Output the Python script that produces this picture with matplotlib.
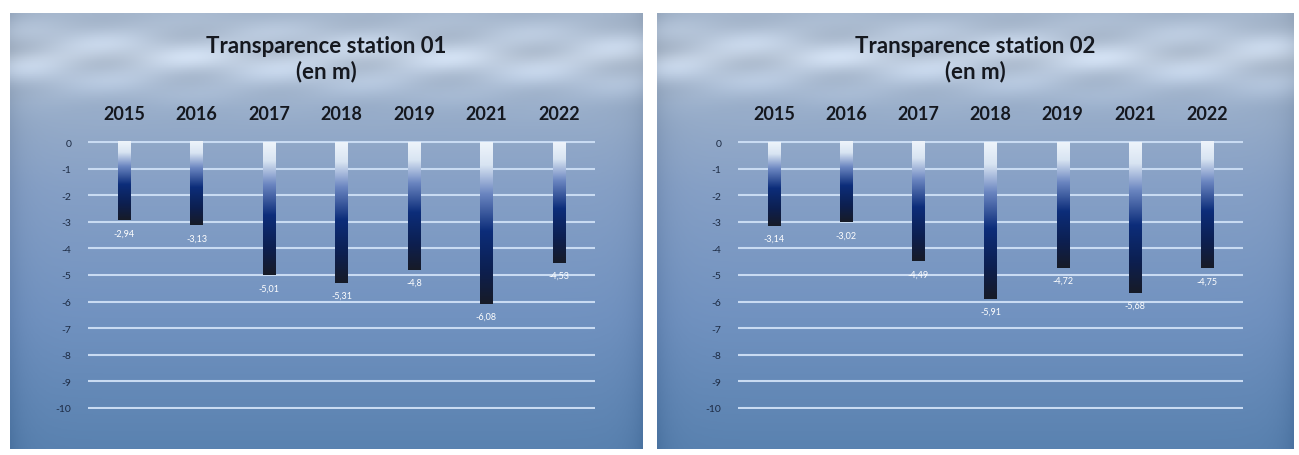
import numpy as np
import matplotlib
matplotlib.use('Agg')
import matplotlib.pyplot as plt
from matplotlib.colors import LinearSegmentedColormap

# donnees
annees = ['2015', '2016', '2017', '2018', '2019', '2021', '2022']
station_01 = [-2.94, -3.13, -5.01, -5.31, -4.8, -6.08, -4.53]
station_02 = [-3.14, -3.02, -4.49, -5.91, -4.72, -5.68, -4.75]
titres = ['Transparence station 01\n(en m)', 'Transparence station 02\n(en m)']
graduations = list(range(0, -11, -1))

W, H = 1299, 456
fig = plt.figure(figsize=(W / 100, H / 100), dpi=100)
fig.patch.set_facecolor('white')

bar_cmap = LinearSegmentedColormap.from_list('barre', [
    (0.0, '#eef4fb'), (0.14, '#d8e4f2'), (0.32, '#6a85c0'),
    (0.55, '#0c2d7a'), (0.8, '#0d1f4f'), (1.0, '#171b27')])

fond_cmap = LinearSegmentedColormap.from_list('fond', [
    (0.0, '#a3b4ca'), (0.1, '#b2c0d2'), (0.22, '#98adc9'),
    (0.4, '#86a0c6'), (0.7, '#7192c0'), (1.0, '#5a82b0')])


def fond(rect):
    # panneau de fond avec degrade vertical
    axb = fig.add_axes(rect)
    ny, nx = 200, 300
    yy = np.linspace(0, 1, ny)[:, None]
    xx = np.linspace(0, 1, nx)[None, :]
    img = fond_cmap(np.repeat(yy, nx, axis=1))
    # nuages legers en haut
    nuage = (0.5 + 0.5 * np.sin(xx * 23 + 1.3) * np.sin(xx * 7 + yy * 60)) * np.exp(-((yy - 0.1) / 0.08) ** 2)
    img[..., :3] = img[..., :3] + 0.13 * nuage[..., None]
    # bords plus sombres
    bord = np.exp(-(xx / 0.02)) + np.exp(-((1 - xx) / 0.02))
    img[..., :3] = img[..., :3] - 0.06 * bord[..., None]
    img = np.clip(img, 0, 1)
    axb.imshow(img, aspect='auto', extent=[0, 1, 0, 1], origin='upper')
    axb.set_xlim(0, 1)
    axb.set_ylim(0, 1)
    axb.axis('off')
    return axb


def graphe(rect_fond, rect_ax, valeurs, titre):
    axb = fond(rect_fond)
    axb.text(0.5, 0.897, titre, ha='center', va='center', fontsize=16,
             fontweight='bold', family='Lato', color='#15181f', linespacing=1.2)

    ax = fig.add_axes(rect_ax)
    ax.patch.set_alpha(0)
    x = np.arange(len(annees))
    largeur = 0.17
    barres = ax.bar(x, valeurs, width=largeur, facecolor='none', edgecolor='none', zorder=3)
    grad = np.linspace(0, 1, 256)[:, None]
    for b, v in zip(barres, valeurs):
        x0 = b.get_x()
        ax.imshow(grad, cmap=bar_cmap, aspect='auto', zorder=3,
                  extent=[x0, x0 + b.get_width(), v, 0], origin='upper')
        ax.text(b.get_x() + b.get_width() / 2, v - 0.3, '{:.2f}'.format(v).replace('.', ',').replace(',80', ',8'),
                ha='center', va='top', fontsize=6.5, color='white', family='Lato', zorder=4)

    ax.set_xlim(-0.5, 6.5)
    ax.set_ylim(-10.05, 0.05)
    ax.set_yticks(graduations)
    ax.set_yticklabels([str(g) for g in graduations], fontsize=7.5, color='#1d2b44', family='Lato')
    ax.xaxis.tick_top()
    ax.set_xticks(x)
    ax.set_xticklabels(annees, fontsize=13, fontweight='bold', color='#15181f', family='Lato')
    ax.tick_params(axis='x', length=0, pad=14)
    ax.tick_params(axis='y', length=0, pad=12)
    ax.grid(axis='y', color='#c9dbf2', linewidth=1.5, zorder=1)
    for s in ax.spines.values():
        s.set_visible(False)


graphe([10 / W, 6 / H, 633 / W, 436 / H], [88 / W, 0.1009, 507 / W, 0.5877], station_01, titres[0])
graphe([657 / W, 6 / H, 637 / W, 436 / H], [738 / W, 0.1009, 505 / W, 0.5877], station_02, titres[1])

fig.savefig('out.png', dpi=100)
